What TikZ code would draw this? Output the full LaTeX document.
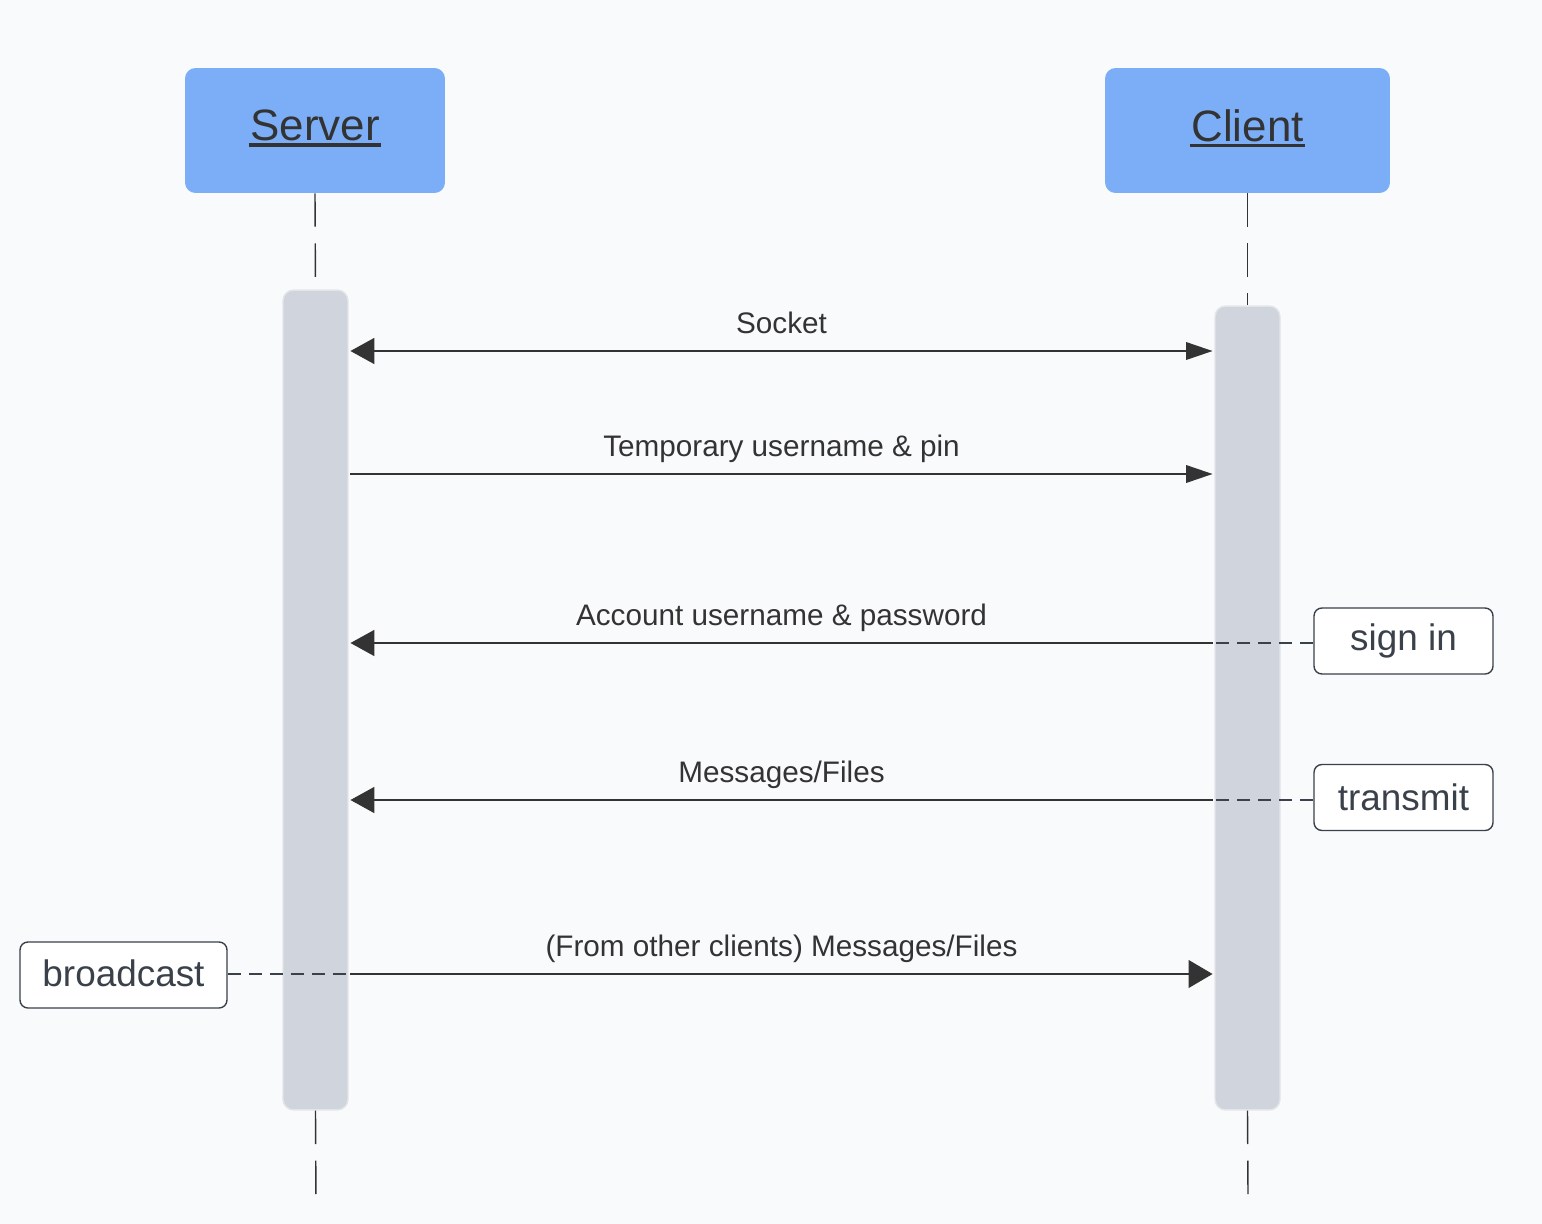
\documentclass[tikz,border=0pt]{standalone}
\usepackage{fontspec}
\setmainfont{Liberation Sans}
\usetikzlibrary{arrows.meta,positioning}
\definecolor{bgcol}{HTML}{F9FAFC}
\definecolor{headblue}{HTML}{7BAEF7}
\definecolor{barfill}{HTML}{D0D5DD}
\definecolor{barline}{HTML}{E2E5EA}
\definecolor{txtdark}{HTML}{333333}
\definecolor{linedark}{HTML}{3A414A}
\newcommand{\ulname}[1]{\setbox0\hbox{#1}\rlap{\kern-1pt\rule[-3.4pt]{\dimexpr\wd0+2pt\relax}{1.8pt}}\box0}
\tikzset{
    %Define arrow tips
    bighead/.tip={Triangle[length=13.6pt,width=14.8pt]},
    smallhead/.tip={Triangle[length=15pt,width=10pt]},
    %Define style for lifeline heads
    actor/.style={
           rectangle,
           rounded corners=6pt,
           fill=headblue,
           text=txtdark,
           minimum height=2.5cm,
           text depth=6pt,
           font=\fontsize{25}{30}\selectfont},
    activation/.style={
           rectangle,
           rounded corners=6pt,
           draw=barline, line width=0.8pt,
           fill=barfill,
           minimum width=1.3cm},
    note/.style={
           rectangle,
           rounded corners=4.5pt,
           draw=linedark, line width=0.8pt,
           fill=white,
           text=linedark,
           minimum height=1.32cm,
           font=\fontsize{21}{25}\selectfont},
    % Define line styles
    lifeline/.style={
           draw=txtdark, line width=0.8pt,
           dash pattern=on 19pt off 9.5pt},
    msg/.style={
           draw=txtdark, line width=0.8pt,
           shorten >=1pt, shorten <=1pt},
    tag/.style={
           draw=linedark, line width=0.8pt,
           dash pattern=on 7.5pt off 4.5pt},
    lbl/.style={
           text=txtdark, anchor=base, yshift=10.2pt,
           font=\fontsize{16.9}{20}\selectfont}
}

\begin{document}
\begin{tikzpicture}[x=0.02cm,y=-0.02cm]
\fill[bgcol] (0,0) rectangle (1542,1224);
\useasboundingbox (0,0) rectangle (1542,1224);

\node[actor, minimum width=5.2cm](server) at (315,130.5){\ulname{Server}};
\node[actor, minimum width=5.7cm](client) at (1247.5,130.5){\ulname{Client}};

\node[activation, minimum height=16.4cm](srvbar) at (315.5,700){};
\node[activation, minimum height=16.08cm](clibar) at (1247.5,708){};

\coordinate (srvend) at (316,1205);
\coordinate (cliend) at (1248,1195);

\draw[lifeline] (server.south) -- (srvbar.north);
\draw[lifeline] (srvbar.south) -- (srvend);
\draw[lifeline] (client.south) -- (clibar.north);
\draw[lifeline] (clibar.south) -- (cliend);

\node[note, minimum width=3.58cm](signin) at (1403.5,641){sign in};
\node[note, minimum width=3.58cm](transmit) at (1403.5,797.5){transmit};
\node[note, minimum width=4.14cm, text depth=2pt](broadcast) at (123.5,975){broadcast};

\coordinate (m1) at (0,351);
\coordinate (m2) at (0,474);
\coordinate (m3) at (0,643);
\coordinate (m4) at (0,800);
\coordinate (m5) at (0,974);

\draw[tag] (signin.west |- m3) -- (1145,643);
\draw[tag] (transmit.west |- m4) -- (clibar.west |- m4);
\draw[tag] (broadcast.east |- m5) -- (365,974);

\draw[msg, arrows={bighead-smallhead}] (srvbar.east |- m1) -- (clibar.west |- m1)
    node[lbl, midway]{Socket};
\draw[msg, arrows={-smallhead}] (srvbar.east |- m2) -- (clibar.west |- m2)
    node[lbl, midway]{Temporary username \& pin};
\draw[msg, arrows={bighead-}] (srvbar.east |- m3) -- (clibar.west |- m3)
    node[lbl, midway]{Account username \& password};
\draw[msg, arrows={bighead-}] (srvbar.east |- m4) -- (clibar.west |- m4)
    node[lbl, midway]{Messages/Files};
\draw[msg, arrows={-{Triangle[length=13.6pt,width=15.8pt]}}] (srvbar.east |- m5) -- (clibar.west |- m5)
    node[lbl, midway]{(From other clients) Messages/Files};

\end{tikzpicture}
\end{document}
